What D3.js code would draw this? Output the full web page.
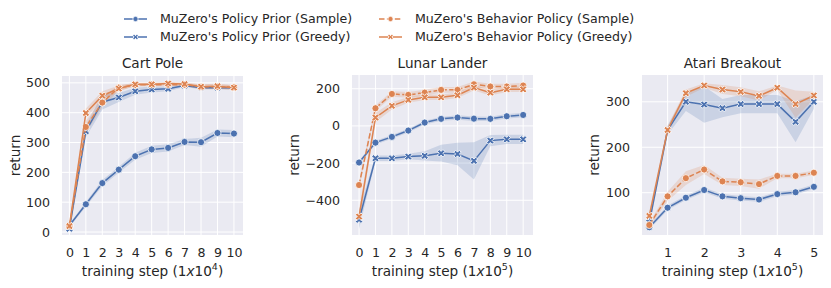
<!DOCTYPE html>
<html>
<head>
  <script src="https://d3js.org/d3.v7.min.js"></script>
  <style>
    body { margin: 0; background: #fff; }
    text { font-family: "DejaVu Sans", sans-serif; fill: #262626; }
  </style>
</head>
<body>
  <script>
    const width = 831;
    const height = 288;

    const seriesNames = [
      "MuZero's Policy Prior (Sample)",
      "MuZero's Policy Prior (Greedy)",
      "MuZero's Behavior Policy (Sample)",
      "MuZero's Behavior Policy (Greedy)"
    ];
    const seriesColors = ["#4C72B0", "#4C72B0", "#DD8452", "#DD8452"];
    const seriesMarkers = ["circle", "x", "circle", "x"];
    const seriesDashed = [false, false, true, false];

    // Cart Pole
    const cartSteps = [0, 1, 2, 3, 4, 5, 6, 7, 8, 9, 10];
    const cartPriorSample = [22, 93, 164, 209, 254, 277, 282, 302, 301, 332, 330];
    const cartPriorGreedy = [11, 338, 436, 451, 472, 478, 480, 491, 484, 484, 484];
    const cartBehSample = [20, 352, 434, 484, 493, 494, 494, 494, 487, 487, 485];
    const cartBehGreedy = [20, 399, 457, 481, 495, 495, 498, 496, 487, 489, 484];
    const cartPriorSampleCI = [5, 8, 10, 10, 12, 12, 12, 10, 15, 12, 12];
    const cartPriorGreedyCI = [5, 20, 25, 15, 12, 10, 8, 5, 5, 5, 5];
    const cartBehSampleCI = [5, 20, 15, 10, 5, 5, 5, 5, 8, 8, 8];
    const cartBehGreedyCI = [5, 15, 15, 10, 5, 5, 5, 5, 8, 8, 8];
    const cartYTicks = [0, 100, 200, 300, 400, 500];
    const cartXTicks = [0, 1, 2, 3, 4, 5, 6, 7, 8, 9, 10];

    // Lunar Lander
    const lunarSteps = [0, 1, 2, 3, 4, 5, 6, 7, 8, 9, 10];
    const lunarPriorSample = [-197, -90, -59, -25, 18, 38, 45, 39, 38, 52, 59];
    const lunarPriorGreedy = [-505, -174, -174, -165, -161, -147, -151, -188, -79, -72, -72];
    const lunarBehSample = [-318, 95, 172, 167, 179, 194, 194, 224, 212, 212, 217];
    const lunarBehGreedy = [-488, 45, 108, 140, 154, 154, 165, 206, 179, 197, 197];
    const lunarPriorSampleCI = [10, 10, 10, 10, 10, 10, 12, 12, 12, 12, 12];
    const lunarPriorGreedyCI = [50, 15, 15, 15, 25, 45, 60, 100, 30, 25, 25];
    const lunarBehSampleCI = [20, 15, 15, 15, 15, 15, 15, 15, 15, 15, 15];
    const lunarBehGreedyCI = [40, 25, 20, 15, 15, 15, 15, 15, 15, 15, 15];
    const lunarYTicks = [-400, -200, 0, 200];
    const lunarXTicks = [0, 1, 2, 3, 4, 5, 6, 7, 8, 9, 10];

    // Atari Breakout
    const atariSteps = [0.5, 1, 1.5, 2, 2.5, 3, 3.5, 4, 4.5, 5];
    const atariPriorSample = [24, 67, 89, 106, 92, 88, 85, 97, 101, 113];
    const atariPriorGreedy = [35, 238, 300, 294, 286, 295, 295, 295, 256, 300];
    const atariBehSample = [29, 92, 132, 151, 125, 123, 119, 137, 137, 144];
    const atariBehGreedy = [49, 238, 319, 336, 327, 322, 313, 331, 295, 314];
    const atariPriorSampleCI = [5, 5, 5, 5, 5, 5, 5, 5, 5, 5];
    const atariPriorGreedyCI = [10, 10, 20, 40, 20, 20, 20, 20, 45, 15];
    const atariBehSampleCI = [5, 10, 15, 10, 8, 8, 10, 5, 5, 5];
    const atariBehGreedyCI = [10, 8, 8, 5, 10, 10, 10, 5, 30, 8];
    const atariYTicks = [100, 200, 300];
    const atariXTicks = [1, 2, 3, 4, 5];

    const panels = [
      {
        title: "Cart Pole", exp: "4",
        left: 62, right: 243, top: 76, bottom: 235, ylabelX: 15,
        xDomain: [-0.45, 10.55], yDomain: [-10, 523],
        steps: cartSteps, xTicks: cartXTicks, yTicks: cartYTicks,
        values: [cartPriorSample, cartPriorGreedy, cartBehSample, cartBehGreedy],
        ci: [cartPriorSampleCI, cartPriorGreedyCI, cartBehSampleCI, cartBehGreedyCI]
      },
      {
        title: "Lunar Lander", exp: "5",
        left: 352, right: 533, top: 75, bottom: 235, ylabelX: 294,
        xDomain: [-0.43, 10.6], yDomain: [-587, 274],
        steps: lunarSteps, xTicks: lunarXTicks, yTicks: lunarYTicks,
        values: [lunarPriorSample, lunarPriorGreedy, lunarBehSample, lunarBehGreedy],
        ci: [lunarPriorSampleCI, lunarPriorGreedyCI, lunarBehSampleCI, lunarBehGreedyCI]
      },
      {
        title: "Atari Breakout", exp: "5",
        left: 642, right: 823, top: 75, bottom: 235, ylabelX: 594,
        xDomain: [0.3, 5.25], yDomain: [7, 359],
        steps: atariSteps, xTicks: atariXTicks, yTicks: atariYTicks,
        values: [atariPriorSample, atariPriorGreedy, atariBehSample, atariBehGreedy],
        ci: [atariPriorSampleCI, atariPriorGreedyCI, atariBehSampleCI, atariBehGreedyCI]
      }
    ];

    const svg = d3.select("body")
      .append("svg")
      .attr("width", width)
      .attr("height", height);

    function drawMarker(g, type, color, size) {
      if (type === "circle") {
        g.append("path")
          .attr("d", d3.symbol(d3.symbolCircle, size)())
          .attr("fill", color)
          .attr("stroke", "#fff")
          .attr("stroke-width", 0.8);
      } else {
        g.append("path")
          .attr("d", d3.symbol(d3.symbolCross, size * 0.85)())
          .attr("transform", "rotate(45)")
          .attr("fill", color)
          .attr("stroke", "#fff")
          .attr("stroke-width", 0.8);
      }
    }

    panels.forEach(p => {
      const x = d3.scaleLinear().domain(p.xDomain).range([p.left, p.right]);
      const y = d3.scaleLinear().domain(p.yDomain).range([p.bottom, p.top]);
      const g = svg.append("g");

      g.append("rect")
        .attr("x", p.left)
        .attr("y", p.top)
        .attr("width", p.right - p.left)
        .attr("height", p.bottom - p.top)
        .attr("fill", "#EAEAF2");

      // grid
      g.selectAll(".gx")
        .data(p.xTicks)
        .join("line")
        .attr("x1", d => x(d)).attr("x2", d => x(d))
        .attr("y1", p.top).attr("y2", p.bottom)
        .attr("stroke", "#fff").attr("stroke-width", 1);
      g.selectAll(".gy")
        .data(p.yTicks)
        .join("line")
        .attr("x1", p.left).attr("x2", p.right)
        .attr("y1", d => y(d)).attr("y2", d => y(d))
        .attr("stroke", "#fff").attr("stroke-width", 1);

      // axes
      const xAxis = g.append("g")
        .attr("transform", `translate(0,${p.bottom})`)
        .call(d3.axisBottom(x).tickValues(p.xTicks).tickSize(0).tickPadding(13).tickFormat(d3.format("d")));
      const yAxis = g.append("g")
        .attr("transform", `translate(${p.left},0)`)
        .call(d3.axisLeft(y).tickValues(p.yTicks).tickSize(0).tickPadding(12)
          .tickFormat(d => d < 0 ? "\u2212" + Math.abs(d) : d));
      [xAxis, yAxis].forEach(a => {
        a.select(".domain").remove();
        a.selectAll("text").attr("font-size", 12.6).attr("fill", "#262626")
          .attr("font-family", "DejaVu Sans, sans-serif");
      });

      // bands
      p.values.forEach((vals, si) => {
        const pts = p.steps.map((s, i) => ({ s: s, v: vals[i], c: p.ci[si][i] }));
        const area = d3.area()
          .x(d => x(d.s))
          .y0(d => y(d.v - d.c))
          .y1(d => y(d.v + d.c));
        g.append("path")
          .datum(pts)
          .attr("d", area)
          .attr("fill", seriesColors[si])
          .attr("fill-opacity", 0.2);
      });

      // lines + markers
      p.values.forEach((vals, si) => {
        const pts = p.steps.map((s, i) => ({ s: s, v: vals[i] }));
        const line = d3.line().x(d => x(d.s)).y(d => y(d.v));
        g.append("path")
          .datum(pts)
          .attr("d", line)
          .attr("fill", "none")
          .attr("stroke", seriesColors[si])
          .attr("stroke-width", 1.5)
          .attr("stroke-dasharray", seriesDashed[si] ? "5.5,2.4" : null);
        pts.forEach(d => {
          const m = g.append("g").attr("transform", `translate(${x(d.s)},${y(d.v)})`);
          drawMarker(m, seriesMarkers[si], seriesColors[si], 40);
        });
      });

      g.append("text")
        .attr("x", (p.left + p.right) / 2)
        .attr("y", 68)
        .attr("text-anchor", "middle")
        .attr("font-size", 13.6)
        .text(p.title);

      g.append("text")
        .attr("transform", `translate(${p.ylabelX},${(p.top + p.bottom) / 2}) rotate(-90)`)
        .attr("text-anchor", "middle")
        .attr("dy", "0.35em")
        .attr("font-size", 13.6)
        .text("return");

      const xl = g.append("text")
        .attr("x", (p.left + p.right) / 2)
        .attr("y", 276)
        .attr("text-anchor", "middle")
        .attr("font-size", 13.6);
      xl.append("tspan").text("training step (1");
      xl.append("tspan").attr("font-style", "italic").text("x");
      xl.append("tspan").text("10");
      xl.append("tspan").attr("font-size", 9.5).attr("dy", -6).text(p.exp);
      xl.append("tspan").attr("dy", 6).text(")");
    });

    // legend
    const legendPos = [[124, 19], [124, 37], [379, 19], [379, 37]];
    seriesNames.forEach((name, i) => {
      const lg = svg.append("g").attr("transform", `translate(${legendPos[i][0]},${legendPos[i][1]})`);
      lg.append("line")
        .attr("x1", 0).attr("x2", 23).attr("y1", 0).attr("y2", 0)
        .attr("stroke", seriesColors[i])
        .attr("stroke-width", 1.5)
        .attr("stroke-dasharray", seriesDashed[i] ? "5.5,2.4" : null);
      const m = lg.append("g").attr("transform", "translate(11.5,0)");
      drawMarker(m, seriesMarkers[i], seriesColors[i], 22);
      lg.append("text")
        .attr("x", 36)
        .attr("y", 0)
        .attr("dy", "0.35em")
        .attr("font-size", 12.6)
        .text(name);
    });
  </script>
</body>
</html>
